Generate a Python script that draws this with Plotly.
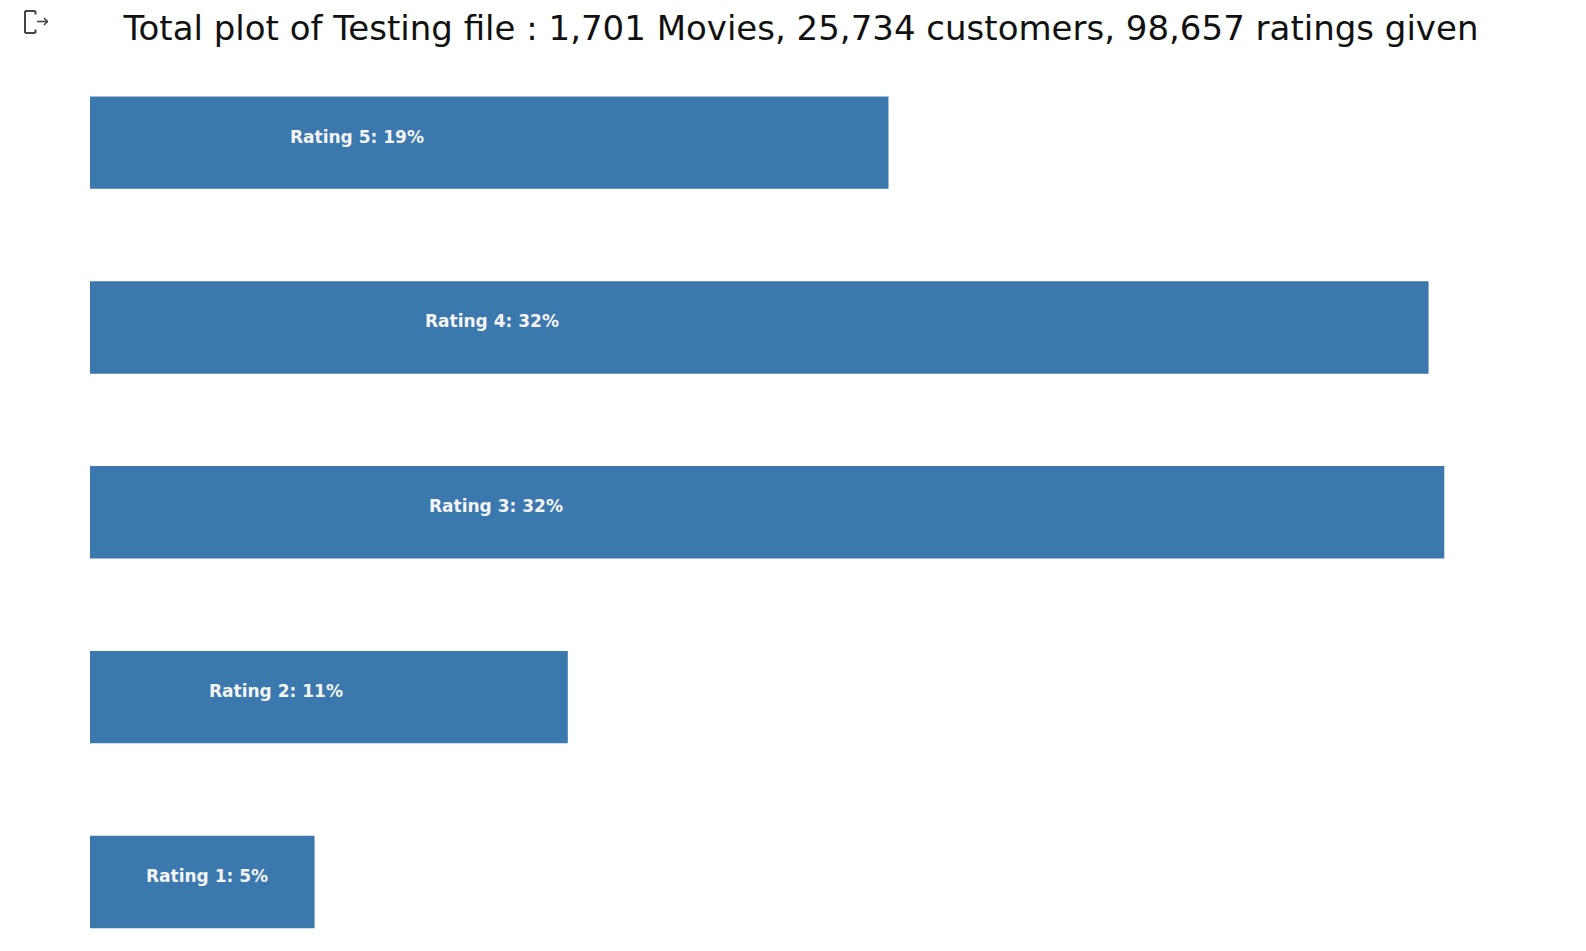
import plotly.graph_objects as go

# Data
ratings = [1, 2, 3, 4, 5]
counts = [5283, 11240, 31860, 31490, 18784]
total_ratings = 98657
n_movies = 1701
n_customers = 25734

title_text = (f"Total plot of Testing file : {n_movies:,} Movies, "
              f"{n_customers:,} customers, {total_ratings:,} ratings given")
labels = [f"Rating {r}: {round(c / total_ratings * 100):.0f}%" for r, c in zip(ratings, counts)]

BAR = "#3A78AE"
W, H = 1586, 951
ml, mr, mt, mb = 90, 8, 60, 6

fig = go.Figure()
fig.add_trace(go.Bar(
    x=counts, y=ratings, orientation="h", width=0.5,
    marker=dict(color=BAR, line=dict(width=0)),
    hoverinfo="skip",
))

for r, c, lab in zip(ratings, counts, labels):
    fig.add_annotation(
        x=c / 4, y=r, text=f"<b>{lab}</b>", showarrow=False,
        xanchor="left", yanchor="middle", yshift=6, xshift=-2,
        font=dict(family="DejaVu Sans", size=17, color="#f4f4f4"),
    )

# scale: px per unit
pitch = (882 - 142.6) / 4
plot_w = W - ml - mr
plot_h = H - mt - mb
y_hi = 5 + (142.6 - mt) / pitch
y_lo = y_hi - plot_h / pitch
px_per_unit = 1354.3 / 31860
x_max = plot_w / px_per_unit

fig.update_xaxes(range=[0, x_max], visible=False, showgrid=False, zeroline=False)
fig.update_yaxes(range=[y_lo, y_hi], visible=False, showgrid=False, zeroline=False)

# Notebook output icon (decoration, pixel coords -> paper coords)
icon_color = "#444444"
def to_paper(x, y):
    return (x - ml) / plot_w, 1 - (y - mt) / plot_h

pts = [(35.5, 14.5), (35.5, 11), (25, 11), (25, 33), (35.5, 33), (35.5, 29.5)]
for (x0, y0), (x1, y1) in zip(pts[:-1], pts[1:]):
    a0 = to_paper(x0, y0); a1 = to_paper(x1, y1)
    fig.add_shape(type="line", xref="paper", yref="paper",
                  x0=a0[0], y0=a0[1], x1=a1[0], y1=a1[1],
                  line=dict(color=icon_color, width=2))
for (x0, y0, x1, y1) in [(37, 21.5, 48, 21.5), (44, 18, 47.5, 21.5), (44, 25, 47.5, 21.5)]:
    a0 = to_paper(x0, y0); a1 = to_paper(x1, y1)
    fig.add_shape(type="line", xref="paper", yref="paper",
                  x0=a0[0], y0=a0[1], x1=a1[0], y1=a1[1],
                  line=dict(color=icon_color, width=1.6))

fig.update_layout(
    width=W, height=H,
    margin=dict(l=ml, r=mr, t=mt, b=mb, pad=0),
    paper_bgcolor="white", plot_bgcolor="white",
    showlegend=False,
    title=dict(text=title_text, x=801 / W, xanchor="center", xref="container",
               y=1 - 28.5 / H, yanchor="middle", yref="container",
               font=dict(family="DejaVu Sans", size=34, color="#111111")),
)

fig.write_html("out.html", config={"displayModeBar": False})
